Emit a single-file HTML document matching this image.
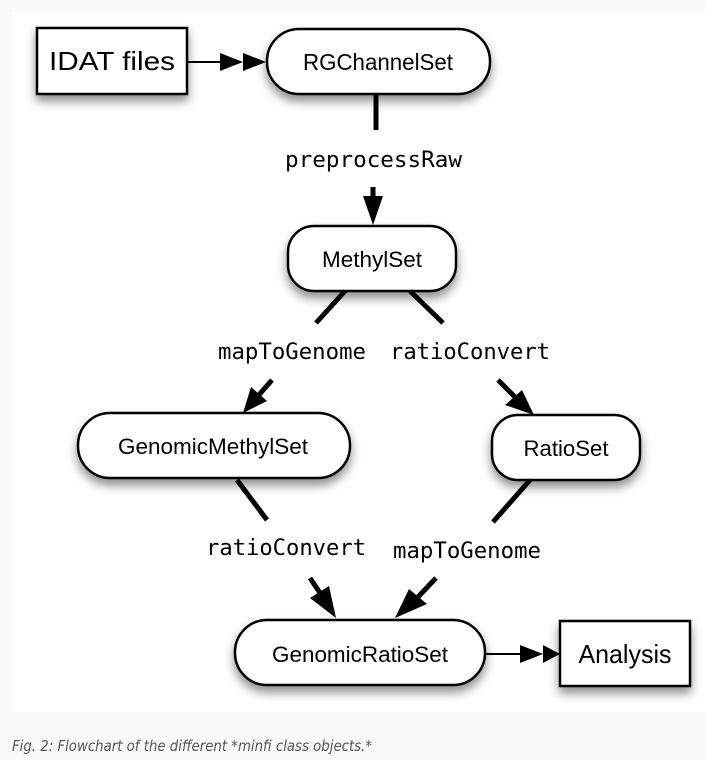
<!DOCTYPE html>
<html><head><style>
html,body{margin:0;padding:0;background:#f9f9f9;width:705px;height:760px;overflow:hidden}
svg{position:absolute;left:0;top:0}
</style></head><body>
<svg width="705" height="760" viewBox="0 0 705 760">
<defs>
<filter id="sh" x="-20%" y="-30%" width="140%" height="180%"><feDropShadow dx="0" dy="6" stdDeviation="5" flood-color="#000" flood-opacity="0.45"/></filter>
</defs>
<rect x="12" y="12" width="693" height="700" fill="#fff"/>
<g fill="#fff" stroke="#000" stroke-width="2.5" filter="url(#sh)">
<rect x="37" y="28" width="150" height="66"/>
<rect x="267" y="29" width="223" height="65" rx="32"/>
<rect x="288" y="226" width="168" height="65" rx="26"/>
<rect x="78" y="413" width="272" height="65" rx="32"/>
<rect x="492" y="415" width="148" height="65" rx="26"/>
<rect x="235" y="620" width="250" height="65" rx="32"/>
<rect x="560" y="621" width="130" height="65"/>
</g>
<g stroke="#000" fill="none">
<line x1="187" y1="62" x2="225" y2="62" stroke-width="2"/>
<line x1="485" y1="654" x2="520" y2="654" stroke-width="2"/>
<g stroke-width="5">
<line x1="376" y1="95" x2="376" y2="130"/>
<line x1="373" y1="187" x2="373" y2="200"/>
<line x1="345" y1="291" x2="316" y2="323"/>
<line x1="410" y1="291" x2="443" y2="323"/>
<line x1="272" y1="380" x2="258" y2="396"/>
<line x1="498" y1="380" x2="515" y2="397"/>
<line x1="237" y1="480" x2="267" y2="520"/>
<line x1="530" y1="480" x2="493" y2="522"/>
<line x1="310" y1="578" x2="322" y2="596"/>
<line x1="436" y1="578" x2="418" y2="597"/>
</g>
</g>
<g fill="#000">
<polygon points="220,53 243,62 220,71"/>
<polygon points="243,53 266,62 243,71"/>
<polygon points="520,645 543,654 520,663"/>
<polygon points="543,645 560,654 543,663"/>
<polygon points="363,196 383,196 373,225"/>
<polygon points="251,387 267,401 243,413"/>
<polygon points="505,405 522,390 534,415"/>
<polygon points="310,598 329,586 336,618"/>
<polygon points="409,589 427,604 395,618"/>
</g>
<g font-family="Liberation Sans, Arial, sans-serif" font-size="22" text-anchor="middle" fill="#000">
<text x="112" y="70" font-size="26" textLength="126" lengthAdjust="spacingAndGlyphs">IDAT files</text>
<text x="378" y="70" font-size="23" textLength="150" lengthAdjust="spacingAndGlyphs">RGChannelSet</text>
<text x="372" y="267" font-size="22" textLength="100" lengthAdjust="spacingAndGlyphs">MethylSet</text>
<text x="213" y="454" font-size="22" textLength="190" lengthAdjust="spacingAndGlyphs">GenomicMethylSet</text>
<text x="566" y="456" font-size="22" textLength="85" lengthAdjust="spacingAndGlyphs">RatioSet</text>
<text x="360" y="662" font-size="22" textLength="176" lengthAdjust="spacingAndGlyphs">GenomicRatioSet</text>
<text x="625" y="663" font-size="26" textLength="93" lengthAdjust="spacingAndGlyphs">Analysis</text>
</g>
<g font-family="DejaVu Sans Mono, Liberation Mono, monospace" font-size="22" fill="#000">
<text x="285" y="167" textLength="177" lengthAdjust="spacingAndGlyphs">preprocessRaw</text>
<text x="218" y="359" textLength="148" lengthAdjust="spacingAndGlyphs">mapToGenome</text>
<text x="390" y="359" textLength="160" lengthAdjust="spacingAndGlyphs">ratioConvert</text>
<text x="206" y="555" textLength="160" lengthAdjust="spacingAndGlyphs">ratioConvert</text>
<text x="393" y="558" textLength="148" lengthAdjust="spacingAndGlyphs">mapToGenome</text>
</g>
<text x="12" y="751" font-family="DejaVu Sans, Liberation Sans, sans-serif" font-style="italic" font-size="15" fill="#555" textLength="360" lengthAdjust="spacingAndGlyphs">Fig. 2: Flowchart of the different *minfi class objects.*</text>
</svg>
</body></html>
